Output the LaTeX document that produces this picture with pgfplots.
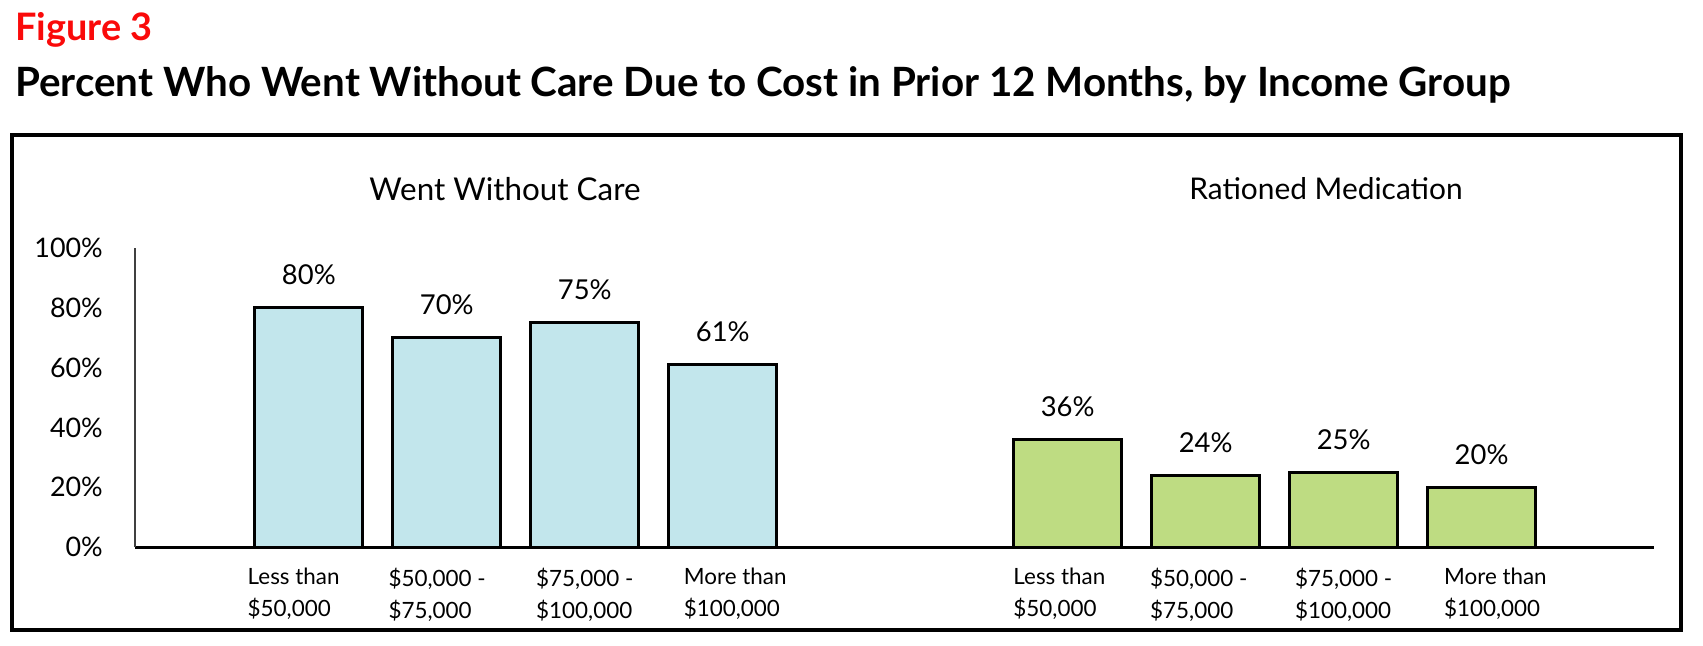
\documentclass[border=0pt]{standalone}
\usepackage{pgfplots}
\pgfplotsset{compat=1.18}
\usepackage{fontspec}
\setmainfont{Lato}
\definecolor{barblue}{RGB}{194,230,236}
\definecolor{bargreen}{RGB}{190,220,130}
\definecolor{figred}{RGB}{250,10,10}
\definecolor{axgray}{RGB}{64,64,64}

\pgfplotstableread{
x val
0 80
1 70
2 75
3 61
}\wentwithout
\pgfplotstableread{
x val
5.5 36
6.5 24
7.5 25
8.5 20
}\rationed

\begin{document}
\begin{tikzpicture}
\useasboundingbox (0,0) rectangle (1703bp,-646bp);
\node[anchor=base west, inner sep=0, text=figred, font=\bfseries\fontsize{38}{44}\selectfont] at (15bp,-40bp) {Figure 3};
\node[anchor=base west, inner sep=0, font=\bfseries\fontsize{40.5}{46}\selectfont] at (15bp,-96bp) {Percent Who Went Without Care Due to Cost in Prior 12 Months, by Income Group};
\draw[line width=3.3bp] (12bp,-135bp) rectangle (1681bp,-630bp);
\node[anchor=base, inner sep=0, font=\fontsize{31.5}{36}\selectfont] at (505bp,-200bp) {Went Without Care};
\node[anchor=base, inner sep=0, font=\fontsize{30}{36}\selectfont] at (1326bp,-199bp) {Rationed Medication};
\begin{axis}[
  at={(135bp,-547bp)}, anchor=south west,
  scale only axis, width=1519bp, height=299bp,
  xmin=-1.26, xmax=9.75, ymin=0, ymax=100,
  axis x line=bottom, axis y line=left,
  axis line style={-},
  x axis line style={line width=3bp, draw=black},
  y axis line style={line width=2.5bp, draw=axgray},
  axis on top,
  clip=false,
  major tick length=0pt,
  /pgf/number format/assume math mode=true,
  ytick={0,20,40,60,80,100},
  yticklabel={\pgfmathprintnumber{\tick}\%},
  yticklabel style={anchor=east, inner sep=0pt, xshift=-32bp, font=\fontsize{27}{30}\selectfont},
  xtick={-0.11,0.93,2,3.09,5.44,6.45,7.5,8.6},
  xticklabels={{Less than\\\$50,000},{\$50,000 -\\\$75,000},{\$75,000 -\\\$100,000},{More than\\\$100,000},
               {Less than\\\$50,000},{\$50,000 -\\\$75,000},{\$75,000 -\\\$100,000},{More than\\\$100,000}},
  xticklabel style={align=left, anchor=north, inner sep=0pt, yshift=-21bp, font=\fontsize{22.5}{32}\selectfont},
  ybar, bar width=0.783, bar shift=0pt,
  nodes near coords={\pgfmathprintnumber{\pgfplotspointmeta}\%},
  every node near coord/.append style={anchor=center, yshift=33bp, font=\fontsize{27.5}{30}\selectfont, text=black},
]
\addplot[fill=barblue, draw=black, line width=3bp] table[x=x, y=val] {\wentwithout};
\addplot[fill=bargreen, draw=black, line width=3bp] table[x=x, y=val] {\rationed};
\end{axis}
\end{tikzpicture}
\end{document}
